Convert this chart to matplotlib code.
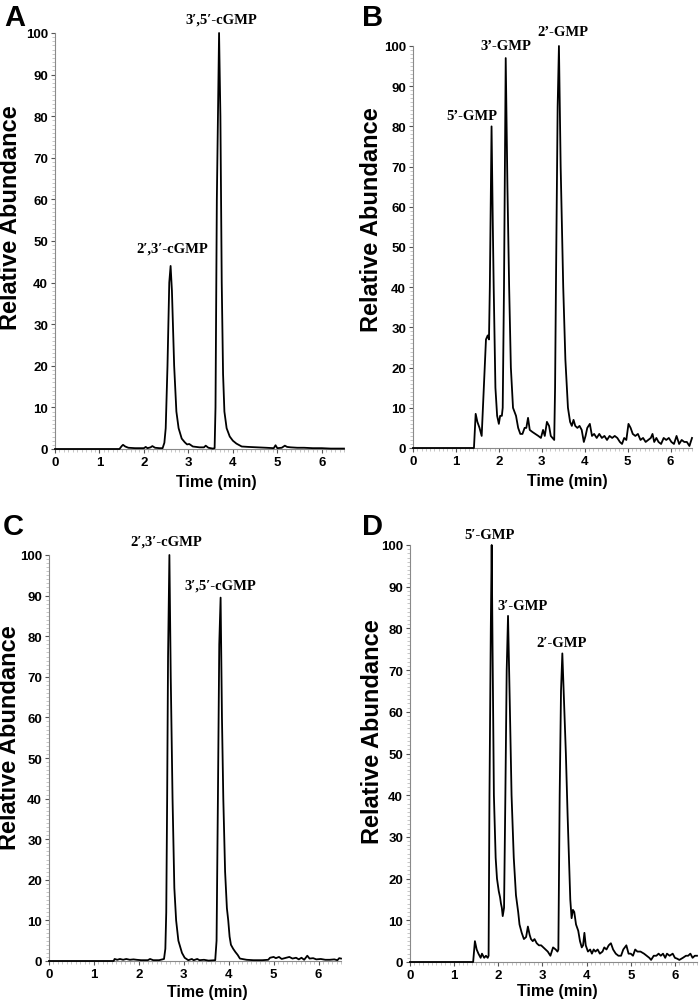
import matplotlib.pyplot as plt
from matplotlib.ticker import MultipleLocator

plt.rcParams['font.family'] = ['Liberation Sans', 'DejaVu Sans']
plt.rcParams['font.weight'] = 'bold'

# chromatogram traces: (time in min, relative abundance)
trace_a = [(0, 0), (1.45, 0), (1.50, 0.7), (1.53, 1.0), (1.58, 0.6), (1.65, 0.3), (1.80, 0.2),
           (2.00, 0.2), (2.04, 0.5), (2.08, 0.2), (2.15, 0.4), (2.19, 0.7), (2.25, 0.3),
           (2.35, 0.2), (2.42, 0.2), (2.46, 1.5), (2.49, 5), (2.53, 20), (2.57, 40), (2.60, 44),
           (2.63, 38), (2.68, 20), (2.73, 9), (2.78, 5), (2.85, 2.5), (2.92, 1.6), (2.97, 1.1),
           (3.02, 1.2), (3.10, 0.6), (3.25, 0.4), (3.35, 0.4), (3.39, 0.8), (3.45, 0.3),
           (3.55, 0.1), (3.59, 0.2), (3.61, 10), (3.64, 60), (3.69, 100), (3.72, 80), (3.75, 40),
           (3.78, 18), (3.81, 9), (3.86, 5), (3.93, 3), (4.00, 2), (4.08, 1.3), (4.20, 0.6),
           (4.35, 0.5), (4.55, 0.4), (4.75, 0.3), (4.92, 0.2), (4.96, 0.9), (5.00, 0.2),
           (5.10, 0.3), (5.17, 0.8), (5.22, 0.5), (5.30, 0.4), (5.45, 0.3), (5.60, 0.3),
           (5.80, 0.2), (6.00, 0.2), (6.20, 0.1), (6.50, 0.1)]

trace_b = [(0, 0), (1.42, 0), (1.46, 8.5), (1.50, 6.5), (1.55, 5), (1.60, 3), (1.65, 15),
           (1.70, 27), (1.74, 28), (1.77, 27), (1.79, 40), (1.83, 80), (1.86, 55), (1.88, 40),
           (1.92, 15), (1.96, 8), (2.00, 6), (2.03, 8), (2.07, 8), (2.09, 10), (2.12, 40),
           (2.16, 97), (2.20, 65), (2.24, 40), (2.28, 20), (2.33, 10), (2.40, 8), (2.45, 5),
           (2.50, 3.5), (2.55, 3.5), (2.60, 5), (2.64, 5), (2.68, 7.5), (2.72, 4.5), (2.78, 4),
           (2.85, 3.5), (2.92, 3), (2.98, 2.5), (3.03, 4.5), (3.07, 3), (3.12, 6.5), (3.17, 5.5),
           (3.21, 3), (3.25, 2.5), (3.29, 2), (3.31, 15), (3.33, 40), (3.37, 85), (3.40, 100),
           (3.44, 70), (3.50, 40), (3.55, 22), (3.61, 10), (3.66, 6.5), (3.70, 5.5), (3.74, 7),
           (3.78, 5.5), (3.83, 5), (3.88, 5.5), (3.93, 4.5), (3.98, 1.5), (4.02, 3), (4.06, 5),
           (4.12, 6), (4.17, 3), (4.22, 3.5), (4.28, 2.5), (4.34, 3.5), (4.40, 2.5), (4.46, 3),
           (4.52, 2), (4.58, 3), (4.64, 2.5), (4.70, 3), (4.76, 2.5), (4.82, 1.5), (4.87, 1),
           (4.92, 2.5), (4.97, 2), (5.02, 6), (5.07, 5), (5.12, 3.5), (5.18, 3), (5.24, 3.5),
           (5.30, 2), (5.36, 2.5), (5.42, 1.5), (5.48, 2), (5.54, 2.5), (5.58, 3.5), (5.62, 1.5),
           (5.67, 2.5), (5.72, 1.5), (5.78, 1), (5.84, 2.5), (5.90, 2), (5.96, 2.5), (6.02, 1.5),
           (6.08, 1), (6.14, 3), (6.20, 1), (6.26, 2), (6.32, 1.5), (6.38, 1.5), (6.44, 0.5),
           (6.50, 2.5)]

trace_c = [(0, 0), (1.44, 0), (1.46, 0.5), (1.52, 0.3), (1.58, 0.5), (1.65, 0.3), (1.72, 0.5),
           (1.80, 0.3), (1.88, 0.4), (1.95, 0.3), (2.05, 0.2), (2.20, 0.2), (2.25, 0.5),
           (2.32, 0.2), (2.45, 0.2), (2.56, 0.5), (2.59, 3), (2.61, 12), (2.63, 40), (2.65, 75),
           (2.68, 100), (2.71, 70), (2.75, 40), (2.79, 18), (2.83, 10), (2.88, 5), (2.96, 2),
           (3.02, 0.8), (3.10, 0.2), (3.18, 0.5), (3.22, 0.2), (3.30, 0.5), (3.35, 0.2),
           (3.45, 0.3), (3.55, 0.1), (3.70, 0.2), (3.73, 5), (3.76, 40), (3.79, 78), (3.82, 89.5),
           (3.85, 60), (3.88, 40), (3.92, 22), (3.96, 13), (3.99, 10), (4.02, 6), (4.05, 4),
           (4.10, 3), (4.15, 2.2), (4.20, 1.5), (4.25, 0.6), (4.40, 0.3), (4.55, 0.2), (4.75, 0.2),
           (4.88, 0.3), (4.92, 0.8), (5.00, 1.0), (5.05, 0.7), (5.12, 1.0), (5.18, 0.5),
           (5.28, 0.8), (5.35, 1.0), (5.42, 0.6), (5.50, 0.8), (5.56, 0.4), (5.62, 0.8),
           (5.68, 0.3), (5.75, 1.3), (5.80, 0.6), (5.88, 0.7), (5.95, 0.4), (6.05, 0.5),
           (6.15, 0.3), (6.25, 0.3), (6.35, 0.4), (6.42, 0.2), (6.46, 0.7), (6.50, 0.6)]

trace_d = [(0, 0), (1.43, 0), (1.47, 5), (1.51, 3), (1.55, 2), (1.60, 1), (1.63, 2), (1.68, 1),
           (1.72, 1.5), (1.76, 1), (1.78, 1.5), (1.80, 40), (1.83, 80), (1.85, 100), (1.87, 75),
           (1.90, 40), (1.94, 25), (1.97, 20), (2.01, 17), (2.04, 15.5), (2.06, 14), (2.08, 13),
           (2.10, 11), (2.13, 13), (2.16, 40), (2.19, 70), (2.22, 83), (2.26, 62), (2.30, 40),
           (2.35, 25), (2.40, 16), (2.45, 12), (2.48, 9), (2.53, 7), (2.58, 5.5), (2.63, 6),
           (2.67, 8.5), (2.71, 6.5), (2.74, 5.5), (2.78, 5), (2.82, 5.5), (2.87, 4.5), (2.92, 4),
           (2.97, 4), (3.02, 3.5), (3.07, 3), (3.12, 2.5), (3.18, 1.5), (3.24, 3.5), (3.30, 3),
           (3.34, 2.5), (3.36, 3), (3.39, 40), (3.42, 65), (3.45, 74), (3.49, 62), (3.53, 50),
           (3.57, 35), (3.60, 25), (3.63, 15), (3.66, 10.5), (3.69, 12.5), (3.72, 12), (3.76, 9),
           (3.81, 7.5), (3.85, 5), (3.89, 3.5), (3.92, 4), (3.95, 7), (3.98, 4), (4.03, 2.5),
           (4.08, 3), (4.12, 2), (4.16, 3), (4.20, 2.5), (4.25, 3), (4.30, 2), (4.36, 2.5),
           (4.40, 3.5), (4.45, 3), (4.50, 4), (4.55, 4.5), (4.60, 3), (4.66, 2), (4.72, 1.5),
           (4.78, 1.5), (4.83, 3), (4.90, 4), (4.95, 2), (5.00, 2), (5.05, 1.5), (5.10, 3),
           (5.15, 2.5), (5.22, 2.5), (5.30, 2), (5.36, 1.5), (5.42, 1), (5.46, 0.5), (5.52, 1.5),
           (5.58, 1.5), (5.63, 2), (5.68, 1.5), (5.73, 2), (5.78, 1), (5.82, 2), (5.88, 1.5),
           (5.95, 2), (6.00, 1), (6.05, 0.8), (6.10, 0.5), (6.18, 1), (6.25, 1.5), (6.30, 1.5),
           (6.35, 2), (6.40, 1), (6.45, 1.5), (6.50, 1.5)]

peaks_a = ["2′,3′-cGMP", "3′,5′-cGMP"]
peaks_b = ["5’-GMP", "3’-GMP", "2’-GMP"]
peaks_c = ["2′,3′-cGMP", "3′,5′-cGMP"]
peaks_d = ["5′-GMP", "3′-GMP", "2′-GMP"]

W, H = 700, 1003
fig = plt.figure(figsize=(W / 100, H / 100), dpi=100)


def rect(l, t, r, b):
    return [l / W, 1 - b / H, (r - l) / W, (b - t) / H]


# letter, trace, labels, axes box (px), label spots (data), letter spot (px),
# label coords (ylabel x, ylabel y, xlabel x, xlabel y) in axes fractions
panels = [
    ('A', trace_a, peaks_a, (55, 34, 344, 450), [(2.63, 48.3), (3.75, 103.4)], (4, 18),
     (-0.154, 0.558, 0.557, -0.077)),
    ('B', trace_b, peaks_b, (413, 47, 692, 449), [(1.37, 82.6), (2.16, 100.2), (3.49, 103.7)],
     (362, 18), (-0.147, 0.57, 0.552, -0.081)),
    ('C', trace_c, peaks_c, (49, 556, 341, 962), [(2.6, 103.4), (3.82, 92.7)], (3, 527),
     (-0.134, 0.552, 0.541, -0.076)),
    ('D', trace_d, peaks_d, (410, 546, 697, 963), [(1.81, 102.4), (2.56, 85.5), (3.43, 76.7)],
     (362, 527), (-0.132, 0.556, 0.512, -0.069)),
]

for letter, trace, names, box, spots, lpos, coords in panels:
    ax = fig.add_axes(rect(*box))
    t, y = zip(*trace)
    ax.plot(t, y, color='black', lw=1.3, clip_on=False, zorder=3)
    ax.set_xlim(0, 6.5)
    ax.set_ylim(0, 100)
    for s in ['top', 'right']:
        ax.spines[s].set_visible(False)
    for s in ['left', 'bottom']:
        ax.spines[s].set_color('#8a8a8a')
        ax.spines[s].set_linewidth(0.8)
    ax.xaxis.set_major_locator(MultipleLocator(1))
    ax.xaxis.set_minor_locator(MultipleLocator(0.1))
    ax.yaxis.set_major_locator(MultipleLocator(10))
    ax.yaxis.set_minor_locator(MultipleLocator(1))
    ax.tick_params(which='major', length=3, width=0.8, color='#555555', labelsize=9.5, pad=2)
    ax.tick_params(which='minor', length=2, width=0.5, color='#b0b0b0')
    ax.set_ylabel('Relative Abundance', fontsize=17, fontweight='bold')
    ax.set_xlabel('Time (min)', fontsize=11.5, fontweight='bold')
    ax.yaxis.set_label_coords(coords[0], coords[1])
    ax.yaxis.label.set_va('center')
    ax.xaxis.set_label_coords(coords[2], coords[3])
    ax.xaxis.label.set_va('center')
    for name, (sx, sy) in zip(names, spots):
        ax.text(sx, sy, name, ha='center', va='center', fontsize=10.5, fontweight='bold',
                family=['Liberation Serif', 'DejaVu Serif'], clip_on=False)
    fig.text(lpos[0] / W, 1 - lpos[1] / H, letter, fontsize=21, fontweight='bold',
             ha='left', va='center')

fig.savefig('out.png', dpi=100)
